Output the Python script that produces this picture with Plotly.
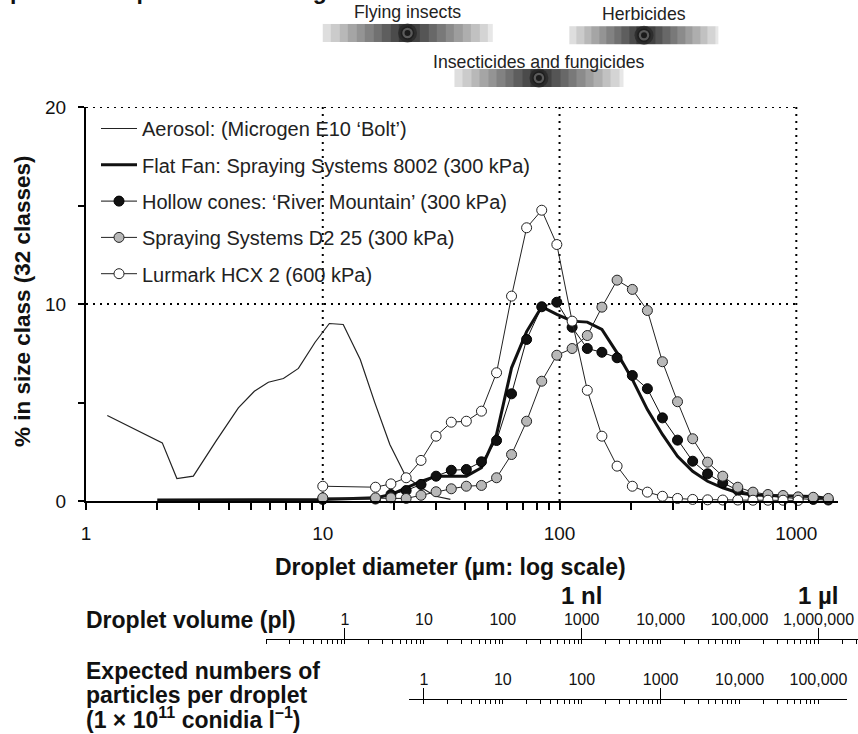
import numpy as np
import plotly.graph_objects as go

W, H = 858, 734
FONT = "Liberation Sans, Arial, sans-serif"

# ---------------- data ----------------
# droplet size classes (um) used by the three nozzle series with markers
class_um = [10, 16.7, 19.4, 22.5, 26.0, 30.1, 34.9, 40.4, 46.8, 54.2, 62.7, 72.6, 84.1,
            97.4, 113, 131, 151, 175, 203, 235, 272, 315, 365, 422, 489, 566, 656,
            759, 879, 1018, 1179, 1365]

aerosol_um = [1.23, 2.1, 2.42, 2.84, 3.54, 4.4, 5.14, 5.89, 6.82, 7.89, 9.28, 10.66,
              12.2, 14.4, 16.6, 19.2, 22.4, 26.0, 30.0, 34.6]
aerosol_pct = [4.34, 2.95, 1.14, 1.26, 3.04, 4.73, 5.57, 6.03, 6.22, 6.73, 8.06, 9.01,
               8.96, 7.18, 4.98, 2.87, 1.26, 0.69, 0.24, 0.08]

flatfan_um = [2.0] + class_um
flatfan_pct = [0.05, 0.08, 0.16, 0.33, 0.67, 1.0, 1.26, 1.26, 1.26, 1.69, 3.38, 6.76,
               8.6, 9.86, 9.47, 9.13, 9.08, 8.71, 7.52, 6.17, 4.64, 3.38, 2.27, 1.51,
               1.0, 0.67, 0.42, 0.3, 0.28, 0.28, 0.25, 0.23, 0.13]

hollow_pct = [0.08, 0.1, 0.33, 0.53, 0.84, 1.26, 1.56, 1.60, 1.99, 3.07, 5.44, 8.2,
              9.86, 10.09, 8.82, 7.74, 7.55, 7.27, 6.37, 5.70, 4.22, 3.09, 2.02, 1.38,
              0.92, 0.55, 0.35, 0.25, 0.18, 0.12, 0.08, 0.05]

d225_pct = [0.16, 0.16, 0.16, 0.13, 0.29, 0.47, 0.62, 0.75, 0.79, 1.18, 2.36, 4.05,
            6.08, 7.40, 7.74, 8.40, 9.84, 11.21, 10.74, 9.67, 7.07, 5.04, 3.16, 1.97,
            1.26, 0.70, 0.45, 0.33, 0.28, 0.21, 0.19, 0.13]

lurmark_um = class_um[:30]
lurmark_pct = [0.75, 0.70, 0.87, 1.18, 2.06, 3.29, 4.0, 4.05, 4.56, 6.51, 10.40, 13.87,
               14.76, 13.02, 9.13, 5.62, 3.29, 1.77, 0.75, 0.45, 0.24, 0.13, 0.08, 0.06,
               0.05, 0.05, 0.04, 0.04, 0.04, 0.03]

series_names = ["Aerosol: (Microgen E10 \u2018Bolt\u2019)",
                "Flat Fan: Spraying Systems 8002 (300 kPa)",
                "Hollow cones: \u2018River Mountain\u2019 (300 kPa)",
                "Spraying Systems D2 25 (300 kPa)",
                "Lurmark HCX 2 (600 kPa)"]

# optimum droplet size bands for targets (um)
band_names = ["Flying insects", "Herbicides", "Insecticides and fungicides"]
band_lo_um = [10, 110, 36]
band_hi_um = [52, 470, 186]
band_row = [1.0, 1.05, 2.0]

diam_ticks = [1, 10, 100, 1000]
diam_tick_text = ["1", "10", "100", "1000"]
diam_ref_lines = [10, 100, 1000]
pct_ref_lines = [10, 20]
pct_ticks = [0, 10, 20]
pct_tick_text = ["0", "10", "20"]
pct_minor_ticks = [5, 15]

vol_tick_pl = [1, 10, 100, 1000, 1e4, 1e5, 1e6]
vol_tick_text = ["1", "10", "100", "1000", "10,000", "100,000", "1,000,000"]
vol_major_pl = [1, 1000, 1e6]
vol_unit_labels = ["1 nl", "1 \u00b5l"]
vol_unit_at_pl = [1000, 1e6]

num_tick = [1, 10, 100, 1000, 1e4, 1e5]
num_tick_text = ["1", "10", "100", "1000", "10,000", "100,000"]
num_major = [1, 1000]
conidia_per_litre = 1e11

# ---------------- geometry ----------------
PX_L, PX_R = 86, 838
PX_T, PX_B = 107, 501
XMAX_UM = 1500


def fx(p):
    return p / W


def fy(p):
    return 1 - p / H


logd_range = [0, float(np.log10(XMAX_UM))]


def logd_at(p):
    return logd_range[0] + (p - PX_L) / (PX_R - PX_L) * (logd_range[1] - logd_range[0])


VOL_CONST = np.log10(np.pi / 6 * 1e-3)          # pl per um^3
NUM_CONST = np.log10(conidia_per_litre * 1e-12)  # particles per pl


def logv_at(p):
    return 3 * logd_at(p) + VOL_CONST


def logn_at(p):
    return logv_at(p) + NUM_CONST


VOL_PX = [266, 858]
NUM_PX = [409, 847]
VOL_Y = 639
NUM_Y = 699

fig = go.Figure()

# ---------------- main series ----------------
fig.add_trace(go.Scatter(x=aerosol_um, y=aerosol_pct, mode="lines", name=series_names[0],
                         legendgroup="a", line=dict(color="#222", width=1.2)))
fig.add_trace(go.Scatter(x=flatfan_um, y=flatfan_pct, mode="lines", name=series_names[1],
                         legendgroup="b", line=dict(color="#111", width=3)))
fig.add_trace(go.Scatter(x=class_um, y=hollow_pct, mode="lines+markers", name=series_names[2],
                         legendgroup="c", cliponaxis=False,
                         line=dict(color="#111", width=1),
                         marker=dict(size=10, color="#111", line=dict(color="#000", width=1))))
fig.add_trace(go.Scatter(x=class_um, y=d225_pct, mode="lines+markers", name=series_names[3],
                         legendgroup="d", cliponaxis=False,
                         line=dict(color="#222", width=1),
                         marker=dict(size=10, color="#b8b8b8", line=dict(color="#222", width=1))))
fig.add_trace(go.Scatter(x=lurmark_um, y=lurmark_pct, mode="lines+markers", name=series_names[4],
                         legendgroup="e", cliponaxis=False,
                         line=dict(color="#222", width=1),
                         marker=dict(size=10, color="white", line=dict(color="#222", width=1))))

# ---------------- target bands (top) ----------------
n_side = 20
for name, lo, hi, row in zip(band_names, band_lo_um, band_hi_um, band_row):
    edges = np.logspace(np.log10(lo), np.log10(hi), 2 * n_side + 1)
    idx = np.arange(2 * n_side)
    dist = np.abs(idx + 0.5 - n_side) / n_side
    shade = dist + 0.05 * (idx % 2)
    fig.add_trace(go.Heatmap(x=edges, y=[row - 0.2, row + 0.2], z=[shade.tolist()],
                             xaxis="x", yaxis="y2", zmin=0, zmax=1.05, showscale=False,
                             hoverinfo="skip",
                             colorscale=[[0, "#2a2a2a"], [0.3, "#666666"],
                                         [0.7, "#b0b0b0"], [1, "#ececec"]]))
    c = float(np.sqrt(lo * hi))
    fig.add_trace(go.Scatter(x=[c, c, c], y=[row, row, row], xaxis="x", yaxis="y2",
                             mode="markers", showlegend=False, hoverinfo="skip",
                             marker=dict(size=[19, 12, 6], color=["#252525", "#707070", "#000"],
                                         line=dict(color="#1a1a1a", width=[0, 1.5, 0]))))
    fig.add_annotation(x=float(np.log10(c)), y=row, xref="x", yref="y2", text=name,
                       xanchor="center", yanchor="middle",
                       showarrow=False, yshift=21 if row < 1.5 else 16,
                       font=dict(family=FONT, size=17.7, color="#222"))

# dummy (empty) traces so the secondary scales get drawn
for ax, xv in [("x2", vol_tick_pl), ("x3", num_tick), ("x4", vol_major_pl), ("x5", num_major)]:
    fig.add_trace(go.Scatter(x=xv, y=[None] * len(xv), xaxis=ax, yaxis="y", mode="markers",
                             showlegend=False, hoverinfo="skip"))

# minor tick positions
minor_d = [m * 10 ** k for k in range(0, 4) for m in range(2, 10) if m * 10 ** k <= XMAX_UM]
minor_v = [m * 10.0 ** k for k in range(-1, 7) for m in range(1, 10) if m * 10.0 ** k <= 3.1e6]
minor_n = [m * 10.0 ** k for k in range(0, 5) for m in range(1, 10)] + [1e5]

tick_font = dict(family=FONT, size=19, color="#111")
small_font = dict(family=FONT, size=16, color="#111")

fig.update_layout(
    template="none",
    width=W, height=H, autosize=False,
    margin=dict(l=0, r=0, t=0, b=0, pad=0, autoexpand=False),
    paper_bgcolor="white", plot_bgcolor="rgba(0,0,0,0)",
    font=dict(family=FONT, color="#111"),
    showlegend=True,
    legend=dict(x=fx(96), y=fy(109), xanchor="left", yanchor="top",
                bgcolor="rgba(0,0,0,0)", borderwidth=0, tracegroupgap=7.3, itemwidth=36,
                font=dict(family=FONT, size=20, color="#222")),
    xaxis=dict(type="log", range=logd_range, domain=[fx(PX_L), fx(PX_R)], anchor="y",
               automargin=False,
               showline=True, linewidth=2, linecolor="black",
               ticks="outside", ticklen=7, tickwidth=2, tickcolor="black",
               tickmode="array", tickvals=diam_ticks, ticktext=diam_tick_text,
               tickfont=tick_font, ticklabelstandoff=7,
               minor=dict(tickmode="array", tickvals=minor_d, ticks="outside", ticklen=7,
                          tickwidth=2, tickcolor="black", showgrid=False),
               showgrid=False, zeroline=False),
    yaxis=dict(range=[0, 20], domain=[fy(PX_B), fy(PX_T)], anchor="x", automargin=False,
               showline=True, linewidth=2, linecolor="black",
               ticks="outside", ticklen=6, tickwidth=2, tickcolor="black",
               tickmode="array", tickvals=pct_ticks, ticktext=pct_tick_text,
               tickfont=tick_font, ticklabelstandoff=8,
               minor=dict(tickmode="array", tickvals=pct_minor_ticks, ticks="outside",
                          ticklen=6, tickwidth=2, tickcolor="black", showgrid=False),
               showgrid=False, zeroline=False),
    yaxis2=dict(domain=[fy(100), 1.0], range=[2.489, 0.267], anchor="x", visible=False,
                automargin=False),
    xaxis2=dict(type="log", domain=[fx(VOL_PX[0]), fx(VOL_PX[1])],
                range=[logv_at(VOL_PX[0]), logv_at(VOL_PX[1])],
                anchor="free", position=fy(VOL_Y), side="top", automargin=False,
                showline=True, linewidth=1, linecolor="black",
                ticks="", tickmode="array", tickvals=vol_tick_pl, ticktext=vol_tick_text,
                tickfont=small_font, ticklabelstandoff=8,
                minor=dict(tickmode="array", tickvals=minor_v, ticks="inside", ticklen=4,
                           tickwidth=1, tickcolor="black", showgrid=False),
                showgrid=False, zeroline=False),
    xaxis4=dict(type="log", overlaying="x2",
                range=[logv_at(VOL_PX[0]), logv_at(VOL_PX[1])],
                anchor="free", position=fy(VOL_Y), side="top", showline=False,
                automargin=False,
                ticks="outside", ticklen=11, tickwidth=1, tickcolor="black",
                tickmode="array", tickvals=vol_major_pl, showticklabels=False,
                showgrid=False, zeroline=False),
    xaxis3=dict(type="log", domain=[fx(NUM_PX[0]), fx(NUM_PX[1])],
                range=[logn_at(NUM_PX[0]), logn_at(NUM_PX[1])],
                anchor="free", position=fy(NUM_Y), side="top", automargin=False,
                showline=True, linewidth=1, linecolor="black",
                ticks="", tickmode="array", tickvals=num_tick, ticktext=num_tick_text,
                tickfont=small_font, ticklabelstandoff=8,
                minor=dict(tickmode="array", tickvals=minor_n, ticks="inside", ticklen=4,
                           tickwidth=1, tickcolor="black", showgrid=False),
                showgrid=False, zeroline=False),
    xaxis5=dict(type="log", overlaying="x3",
                range=[logn_at(NUM_PX[0]), logn_at(NUM_PX[1])],
                anchor="free", position=fy(NUM_Y), side="top", showline=False,
                automargin=False,
                ticks="outside", ticklen=11, tickwidth=1, tickcolor="black",
                tickmode="array", tickvals=num_major, showticklabels=False,
                showgrid=False, zeroline=False),
)

# dotted reference lines: 10 % and 20 % (1-1000 um) and 10/100/1000 um (0-20 %)
dots = dict(color="black", width=2, dash="2px,5px")
for yv in pct_ref_lines:
    fig.add_shape(type="line", xref="x", yref="y", x0=diam_ticks[0], x1=diam_ticks[-1],
                  y0=yv, y1=yv, line=dots, layer="below")
for xv in diam_ref_lines:
    fig.add_shape(type="line", xref="x", yref="y", x0=xv, x1=xv, y0=0, y1=20,
                  line=dots, layer="below")

bold = dict(family=FONT, size=23, color="#111", weight="bold")

# axis titles and side labels
fig.add_annotation(x=fx(22), y=fy(302), xref="paper", yref="paper", textangle=-90,
                   xanchor="center", yanchor="middle",
                   text="% in size class (32 classes)", showarrow=False,
                   font=dict(family=FONT, size=22.5, color="#111", weight="bold"))
fig.add_annotation(x=fx(450), y=fy(567), xref="paper", yref="paper",
                   xanchor="center", yanchor="middle",
                   text="Droplet diameter (\u00b5m: log scale)", showarrow=False, font=bold)
for lab, v in zip(vol_unit_labels, vol_unit_at_pl):
    fig.add_annotation(x=float(np.log10(v)), y=fy(595), xref="x2", yref="paper", text=lab,
                       xanchor="center", yanchor="middle", showarrow=False,
                       font=dict(family=FONT, size=24, color="#111", weight="bold"))
fig.add_annotation(x=fx(84), y=fy(620), xref="paper", yref="paper", xanchor="left",
                   yanchor="middle", text="Droplet volume (pl)", showarrow=False, font=bold)
for txt, py in zip(["Expected numbers of", "particles per droplet",
                    "(1 \u00d7 10<sup>11</sup> conidia l<sup>\u20131</sup>)"], [671, 695, 718]):
    fig.add_annotation(x=fx(84), y=fy(py), xref="paper", yref="paper", xanchor="left",
                       yanchor="middle", showarrow=False, font=bold, text=txt)
# clipped heading at the very top of the crop
fig.add_annotation(x=fx(-10), y=fy(6), xref="paper", yref="paper", xanchor="left",
                   yanchor="bottom", text="Optimum droplet sizes for target",
                   showarrow=False, font=bold)

fig.write_html("out.html", config={"displayModeBar": False},
               post_script="document.body.style.margin='0';")
